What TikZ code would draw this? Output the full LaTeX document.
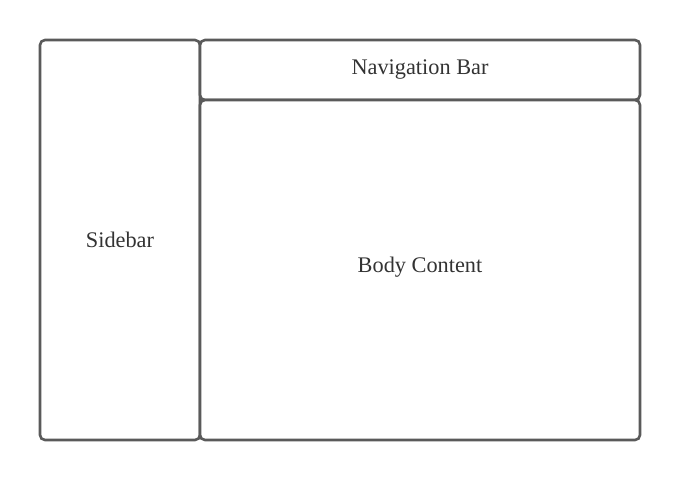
\documentclass[tikz,border=0pt]{standalone}
\usepackage{fontspec}
\setmainfont{Liberation Serif}
\definecolor{edge}{HTML}{5A5A5A}
\definecolor{txt}{HTML}{333333}
\tikzset{
  panel/.style={draw=edge, line width=2.6pt, rounded corners=5pt, fill=white},
  lbl/.style={text=txt, font=\fontsize{22.3}{26}\selectfont}
}
\begin{document}
\begin{tikzpicture}[x=1pt,y=-1pt]
\useasboundingbox[fill=white] (0,0) rectangle (680,480);
\draw[panel] (40,40) rectangle (200,440);
\draw[panel] (200,40) rectangle (640,100);
\draw[panel] (200,100) rectangle (640,440);
\node[lbl] (side) at (120,240) {Sidebar};
\node[lbl] (nav) at (420,69.5) {Navigation Bar};
\node[lbl] (body) at (420,267.5) {Body Content};
\end{tikzpicture}
\end{document}
